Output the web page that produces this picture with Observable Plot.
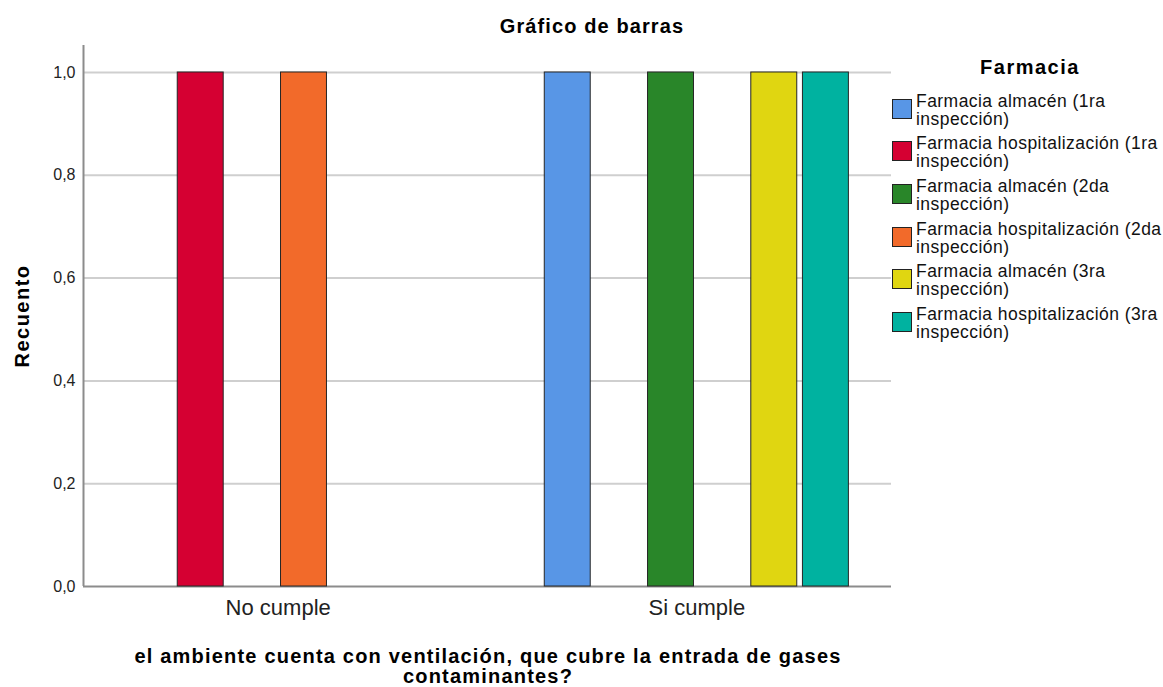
<!DOCTYPE html>
<html>
<head>
<meta charset="utf-8">
<script src="https://cdn.jsdelivr.net/npm/d3@7"></script>
<script src="https://cdn.jsdelivr.net/npm/@observablehq/plot@0.6"></script>
<style>
  body { margin: 0; background: #fff; font-family: "Liberation Sans", Arial, sans-serif; }
  #wrap { position: relative; width: 1163px; height: 687px; overflow: hidden; }
  #wrap svg { position: absolute; left: 0; top: 0; }
  .abs { position: absolute; white-space: nowrap; color: #000; }
  #title { left: 392px; width: 400px; top: 16px; text-align: center; font-weight: bold; font-size: 20px; line-height: 20px; letter-spacing: 1.1px; }
  #xtitle { left: 88px; width: 800px; top: 646px; text-align: center; font-weight: bold; font-size: 20px; line-height: 20px; letter-spacing: 1.2px; }
  #ytitle { left: 22px; top: 316px; transform: translate(-50%, -50%) rotate(-90deg); font-weight: bold; font-size: 20px; line-height: 20px; letter-spacing: 1.5px; }
  #legtitle { left: 930px; width: 200px; top: 57px; text-align: center; font-weight: bold; font-size: 20px; line-height: 20px; letter-spacing: 1.5px; }
  .item { position: absolute; left: 892px; }
  .sw { position: absolute; left: 0; top: 7px; width: 18px; height: 18px; border: 1px solid #222; box-sizing: content-box; }
  .lab { position: absolute; left: 24px; top: 0; font-size: 17.5px; line-height: 18px; letter-spacing: 0.45px; color: #111; white-space: nowrap; }
</style>
</head>
<body>
<div id="wrap"></div>
<script>
// ---- data ----
const grupos = ["No cumple", "Si cumple"];
const series = [
  "Farmacia almacén (1ra inspección)",
  "Farmacia hospitalización (1ra inspección)",
  "Farmacia almacén (2da inspección)",
  "Farmacia hospitalización (2da inspección)",
  "Farmacia almacén (3ra inspección)",
  "Farmacia hospitalización (3ra inspección)"
];
const legendLines = [
  ["Farmacia almacén (1ra", "inspección)"],
  ["Farmacia hospitalización (1ra", "inspección)"],
  ["Farmacia almacén (2da", "inspección)"],
  ["Farmacia hospitalización (2da", "inspección)"],
  ["Farmacia almacén (3ra", "inspección)"],
  ["Farmacia hospitalización (3ra", "inspección)"]
];
const colores = ["#5896E6", "#D50032", "#298629", "#F26A2A", "#E0D611", "#00B2A0"];
const recuentoNoCumple = [0, 1, 0, 1, 0, 0];
const recuentoSiCumple = [1, 0, 1, 0, 1, 1];
const yTicks = [0, 0.2, 0.4, 0.6, 0.8, 1.0];

const rows = [];
series.forEach((s, i) => {
  if (recuentoNoCumple[i] > 0) rows.push({grupo: grupos[0], serie: s, valor: recuentoNoCumple[i]});
  if (recuentoSiCumple[i] > 0) rows.push({grupo: grupos[1], serie: s, valor: recuentoSiCumple[i]});
});

const fmt = d => d.toFixed(1).replace(".", ",");
const common = {
  width: 1163,
  height: 687,
  marginTop: 45,
  marginBottom: 101,
  marginLeft: 83,
  marginRight: 272,
  style: {fontFamily: '"Liberation Sans", Arial, sans-serif', background: "transparent"}
};

// base layer: grid, y axis, axis lines
const base = Plot.plot({
  ...common,
  x: {domain: [0, 1], axis: null},
  y: {domain: [0, 1.0525], axis: null},
  marks: [
    Plot.ruleY(yTicks.slice(1), {stroke: "#cfcfcf", strokeWidth: 2}),
    Plot.axisY(yTicks, {tickSize: 0, tickPadding: 8, tickFormat: fmt, fontSize: 16, fill: "#222", label: null}),
    Plot.ruleX([0], {stroke: "#8c8c8c", strokeWidth: 2}),
    Plot.ruleY([0], {stroke: "#8c8c8c", strokeWidth: 2})
  ]
});

// bar layer: faceted by group
const bars = Plot.plot({
  ...common,
  fx: {domain: grupos, paddingInner: 0.26, paddingOuter: 0.095, round: false, label: null},
  x: {domain: series, paddingInner: 0.11, paddingOuter: 0.055, round: false, axis: null},
  y: {domain: [0, 1.0525], axis: null},
  color: {domain: series, range: colores},
  marks: [
    Plot.barY(rows, {fx: "grupo", x: "serie", y: "valor", fill: "serie", stroke: "#262626", strokeWidth: 1}),
    Plot.axisFx({anchor: "bottom", tickSize: 0, tickPadding: 13, fontSize: 22, fill: "#222", label: null})
  ]
});

const wrap = document.getElementById("wrap");
wrap.appendChild(base);
wrap.appendChild(bars);

function addDiv(id, text) {
  const d = document.createElement("div");
  d.className = "abs"; d.id = id; d.textContent = text;
  wrap.appendChild(d);
  return d;
}
addDiv("title", "Gráfico de barras");
const xt = addDiv("xtitle", "");
xt.innerHTML = "el ambiente cuenta con ventilación, que cubre la entrada de gases<br>contaminantes?";
addDiv("ytitle", "Recuento");
addDiv("legtitle", "Farmacia");

legendLines.forEach((lines, i) => {
  const it = document.createElement("div");
  it.className = "item";
  it.style.top = (91.6 + 42.7 * i) + "px";
  const sw = document.createElement("div");
  sw.className = "sw";
  sw.style.background = colores[i];
  const lab = document.createElement("div");
  lab.className = "lab";
  lab.innerHTML = lines.join("<br>");
  it.appendChild(sw); it.appendChild(lab);
  wrap.appendChild(it);
});
</script>
</body>
</html>
